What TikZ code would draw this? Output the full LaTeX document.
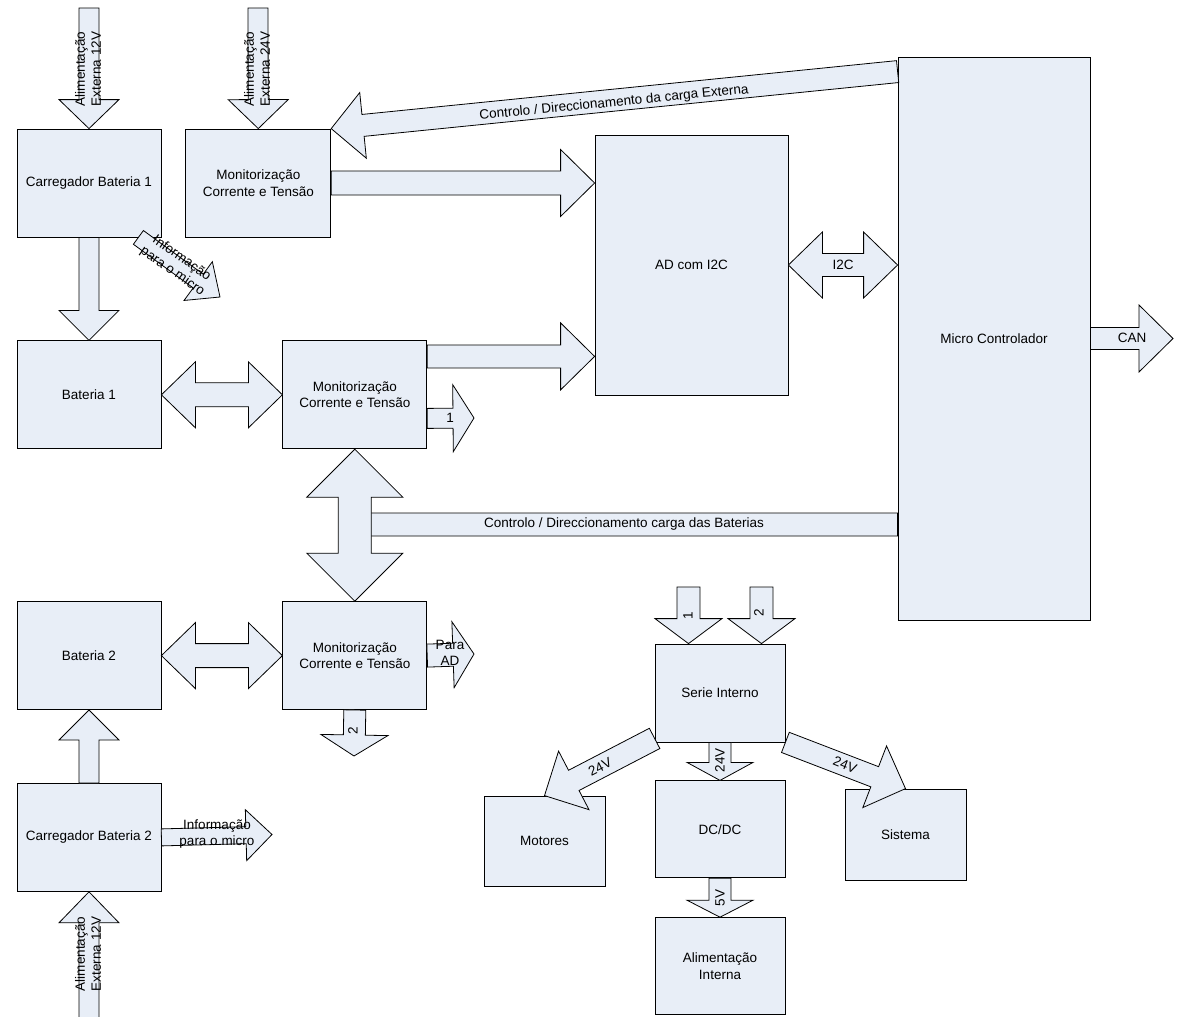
\documentclass[tikz,border=0pt]{standalone}
\usepackage{fontspec}
\setmainfont{Liberation Sans}
\usetikzlibrary{positioning,calc}
\definecolor{boxfill}{RGB}{232,238,247}

% block arrow: from, to, half shaft, half head, head length
\newcommand{\blkarrow}[5]{%
  \coordinate (hb) at ($(#2)!#5pt!(#1)$);
  \draw[blk] ($(#1)!#3pt!90:(#2)$) -- ($(hb)!#3pt!90:(#2)$) -- ($(hb)!#4pt!90:(#2)$) -- (#2)
    -- ($(hb)!#4pt!-90:(#2)$) -- ($(hb)!#3pt!-90:(#2)$) -- ($(#1)!#3pt!-90:(#2)$) -- cycle;
}
% double block arrow: end, end, half shaft, half head, head length
\newcommand{\dblarrow}[5]{%
  \coordinate (ha) at ($(#1)!#5pt!(#2)$);
  \coordinate (hb) at ($(#2)!#5pt!(#1)$);
  \draw[blk] (#1) -- ($(ha)!#4pt!90:(#2)$) -- ($(ha)!#3pt!90:(#2)$) -- ($(hb)!#3pt!-90:(#1)$)
    -- ($(hb)!#4pt!-90:(#1)$) -- (#2) -- ($(hb)!#4pt!90:(#1)$) -- ($(hb)!#3pt!90:(#1)$)
    -- ($(ha)!#3pt!-90:(#2)$) -- ($(ha)!#4pt!-90:(#2)$) -- cycle;
}

\begin{document}
\begin{tikzpicture}[
    x=1pt, y=-1pt,
    box/.style={rectangle, draw, fill=boxfill, line width=0.8pt, inner sep=0pt, align=center,
        font=\fontsize{13.5}{16.5}\selectfont},
    cell/.style={box, minimum width=144pt, minimum height=108pt},
    unit/.style={box, minimum width=130pt, minimum height=97pt},
    lbl/.style={inner sep=0pt, align=center, font=\fontsize{13.5}{16}\selectfont},
    blk/.style={draw, fill=boxfill, line width=0.8pt, line join=miter}
]
    \useasboundingbox (0,0) rectangle (1181,1017);

    % Chargers, batteries and monitoring
    \node[cell] (cb1) at (89,183) {Carregador Bateria 1};
    \node[cell, minimum width=145pt, right=24pt of cb1] (m0) {Monitorização\\Corrente e Tensão};
    \node[cell, below=103pt of cb1] (b1) {Bateria 1};
    \node[cell, right=121pt of b1] (m1) {Monitorização\\Corrente e Tensão};
    \node[cell, below=152pt of b1] (b2) {Bateria 2};
    \node[cell, right=121pt of b2] (m2) {Monitorização\\Corrente e Tensão};
    \node[cell, below=73pt of b2] (cb2) {Carregador Bateria 2};

    % AD and micro
    \node[box, minimum width=193pt, minimum height=260pt] (ad) at (691.5,265) {AD com I2C};
    \node[box, minimum width=192pt, minimum height=563pt] (mc) at (994,338.5) {Micro Controlador};

    % Internal supply
    \node[unit, minimum height=98pt] (si) at (720,693) {Serie Interno};
    \node[unit, below=38pt of si] (dc) {DC/DC};
    \node[unit, below=39pt of dc] (ai) {Alimentação\\Interna};
    \node[box, minimum width=121pt, minimum height=90pt] (mot) at (544.5,841) {Motores};
    \node[box, minimum width=121pt, minimum height=91pt] (sis) at (905.5,834.5) {Sistema};

    % Free ends
    \coordinate (e12a) at (89,8);
    \coordinate (e24) at (258,8);
    \coordinate (e12b) at (89,1030);
    \coordinate (inf1a) at ([xshift=-23pt]cb1.south east);
    \coordinate (inf1b) at (220,297);
    \coordinate (inf2) at (272,834.5);
    \coordinate (ctlx) at ([yshift=-15pt]mc.north west);
    \coordinate (ad0) at (ad.west |- m0.east);
    \coordinate (m1ad) at ([yshift=-16pt]m1.north east);
    \coordinate (ad1) at (ad.west |- m1ad);
    \coordinate (mci) at (mc.west |- ad.east);
    \coordinate (can) at (1173,338.5);
    \coordinate (m1o) at ([yshift=-78pt]m1.north east);
    \coordinate (out1) at (474,418);
    \coordinate (ctlb) at ([yshift=-186pt]mc.west);
    \coordinate (ctlbt) at (355,524.5);
    \coordinate (pad) at (474,654);
    \coordinate (out2) at (354,756);
    \coordinate (in1) at (688.5,587);
    \coordinate (in2) at (761.5,587);
    \coordinate (si1) at ([xshift=-31.5pt]si.north);
    \coordinate (si2) at ([xshift=41.5pt]si.north);
    \coordinate (mota) at ([yshift=4pt]si.south west);

    % Upper arrows
    \blkarrow{e12a}{cb1.north}{10}{30}{29}
    \blkarrow{e24}{m0.north}{10}{30}{29}
    \blkarrow{cb1.south}{b1.north}{10}{30}{30}
    \blkarrow{inf1a}{inf1b}{8.5}{24}{27}
    \blkarrow{ctlx}{m0.north east}{11}{33}{32}
    \blkarrow{m0.east}{ad0}{12}{33.5}{34}
    \blkarrow{m1ad}{ad1}{11.5}{33.5}{34}
    \dblarrow{ad.east}{mci}{11.5}{33}{34}
    \blkarrow{mc.east}{can}{11}{33.5}{34}
    \dblarrow{b1.east}{m1.west}{12}{33}{34}
    \blkarrow{m1o}{out1}{10}{33.5}{21}

    % Battery control (head hidden behind the link)
    \blkarrow{ctlb}{ctlbt}{11.5}{11.5}{10}
    \dblarrow{m1.south}{m2.north}{16.5}{48}{48}

    % Lower arrows
    \dblarrow{b2.east}{m2.west}{12}{33}{34}
    \blkarrow{m2.east}{pad}{11.5}{33}{21}
    \blkarrow{m2.south}{out2}{11}{33.5}{21}
    \blkarrow{cb2.north}{b2.south}{10}{30}{30}
    \blkarrow{e12b}{cb2.south}{10}{30}{31}
    \blkarrow{cb2.east}{inf2}{8.5}{25.5}{26}

    % Internal supply arrows
    \blkarrow{in1}{si1}{11.5}{33.5}{25}
    \blkarrow{in2}{si2}{11.5}{33.5}{25}
    \blkarrow{mota}{mot.north}{11.4}{33}{33}
    \blkarrow{si.south east}{sis.north}{10.8}{33}{33}
    \blkarrow{si.south}{dc.north}{11}{33}{18}
    \blkarrow{dc.south}{ai.north}{11}{33}{17}

    % Arrow labels
    \node[lbl, rotate=90] (lext12a) at (88,69) {Alimentação\\Externa 12V};
    \node[lbl, rotate=90] (lext24) at (257,69) {Alimentação\\Externa 24V};
    \node[lbl, rotate=90] (lext12b) at (88,954) {Alimentação\\Externa 12V};
    \node[lbl, rotate=-35] (linf1) at (177,265) {Informação\\para o micro};
    \node[lbl] (linf2) at (217,834) {Informação\\para o micro};
    \node[lbl, rotate=5.6] (lctlx) at (614,103) {Controlo / Direccionamento da carga Externa};
    \node[lbl] (lctlb) at (624,524.5) {Controlo / Direccionamento carga das Baterias};
    \node[lbl] (li2c) at (843,264.5) {I2C};
    \node[lbl] (lcan) at (1132,338) {CAN};
    \node[lbl] (lout1) at (450,418) {1};
    \node[lbl] (lpad) at (450,653) {Para\\AD};
    \node[lbl, rotate=90] (lout2) at (353,731) {2};
    \node[lbl, rotate=90] (lin1) at (688,616) {1};
    \node[lbl, rotate=90] (lin2) at (759,613) {2};
    \node[lbl, rotate=90] (l24dc) at (720,760) {24V};
    \node[lbl, rotate=90] (l5v) at (720,898) {5V};
    \node[lbl, rotate=27] (l24mot) at (600,767) {24V};
    \node[lbl, rotate=-22] (l24sis) at (845,765) {24V};
\end{tikzpicture}
\end{document}
